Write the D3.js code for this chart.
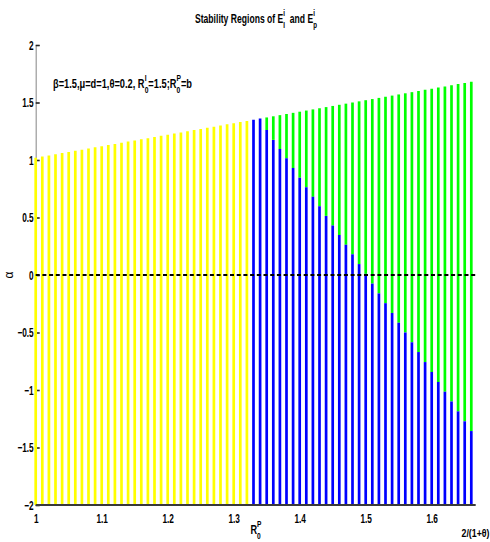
<!DOCTYPE html>
<html>
<head>
<meta charset="utf-8">
<script src="https://cdn.jsdelivr.net/npm/d3@7/dist/d3.min.js"></script>
<style>
  html, body { margin: 0; padding: 0; background: #fff; }
  svg { display: block; }
  .lbl { font-family: "Liberation Sans", Arial, sans-serif; font-weight: bold; fill: #000; }
</style>
</head>
<body>
<svg id="chart" width="490" height="542"></svg>
<script>
// Sample points of R0^P along the horizontal axis
const r0pValues = [
  1.00, 1.01, 1.02, 1.03, 1.04, 1.05, 1.06, 1.07, 1.08, 1.09,
  1.10, 1.11, 1.12, 1.13, 1.14, 1.15, 1.16, 1.17, 1.18, 1.19,
  1.20, 1.21, 1.22, 1.23, 1.24, 1.25, 1.26, 1.27, 1.28, 1.29,
  1.30, 1.31, 1.32, 1.33, 1.34, 1.35, 1.36, 1.37, 1.38, 1.39,
  1.40, 1.41, 1.42, 1.43, 1.44, 1.45, 1.46, 1.47, 1.48, 1.49,
  1.50, 1.51, 1.52, 1.53, 1.54, 1.55, 1.56, 1.57, 1.58, 1.59,
  1.60, 1.61, 1.62, 1.63, 1.64, 1.65, 1.66
];

// Upper edge of the admissible alpha range at each sample
const alphaUpper = [
  1.02, 1.03, 1.04, 1.05, 1.06, 1.07, 1.08, 1.09, 1.10, 1.11,
  1.12, 1.13, 1.14, 1.15, 1.16, 1.17, 1.18, 1.19, 1.20, 1.21,
  1.22, 1.23, 1.24, 1.25, 1.26, 1.27, 1.28, 1.29, 1.30, 1.31,
  1.32, 1.33, 1.34, 1.35, 1.36, 1.37, 1.38, 1.39, 1.40, 1.41,
  1.42, 1.43, 1.44, 1.45, 1.46, 1.47, 1.48, 1.49, 1.50, 1.51,
  1.52, 1.53, 1.54, 1.55, 1.56, 1.57, 1.58, 1.59, 1.60, 1.61,
  1.62, 1.63, 1.64, 1.65, 1.66, 1.67, 1.68
];

// Top of the E_P stable part (blue) for R0^P >= 1.33; null where only E_I exists
const alphaBlueTop = [
  null, null, null, null, null, null, null, null, null, null,
  null, null, null, null, null, null, null, null, null, null,
  null, null, null, null, null, null, null, null, null, null,
  null, null, null, 1.35, 1.36, 1.26, 1.175, 1.095, 1.015, 0.93,
  0.846, 0.763, 0.68, 0.597, 0.514, 0.43, 0.347, 0.263, 0.18, 0.095,
  0.01, -0.075, -0.16, -0.245, -0.33, -0.415, -0.50, -0.585, -0.67, -0.757,
  -0.843, -0.93, -1.015, -1.10, -1.186, -1.272, -1.357
];

const xTicks = [1, 1.1, 1.2, 1.3, 1.4, 1.5, 1.6];
const yTicks = [-2, -1.5, -1, -0.5, 0, 0.5, 1, 1.5, 2];
const xMax = 2 / (1 + 0.2);

const colYellow = "#ffff00", colBlue = "#0000ff", colGreen = "#00ff00";
const tickScaleX = 0.66;   // condensed look of the tick labels

const svg = d3.select("#chart");
const x = d3.scaleLinear().domain([1, xMax]).range([35.7, 475.7]);
const y = d3.scaleLinear().domain([-2, 2]).range([505, 45]);

// Left axis: gray spine, short inward ticks
const yAxis = svg.append("g")
  .attr("transform", `translate(${x(1)},0)`)
  .call(d3.axisLeft(y).tickValues(yTicks).tickSize(-4).tickPadding(2)
        .tickFormat(d3.format("")));
yAxis.select(".domain").attr("stroke", "#999").attr("stroke-width", 1.2);
yAxis.selectAll(".tick line").attr("stroke", "#222").attr("stroke-width", 1.6);
yAxis.selectAll(".tick text").attr("class", "lbl").style("font-size", "12.5px")
  .attr("transform", `scale(${tickScaleX},1)`)
  .attr("x", -2 / tickScaleX)
  .text(d => d < 0 ? "\u2212" + Math.abs(d) : String(d));

// Bars
const bars = svg.append("g");
const bw = 2.7;
r0pValues.forEach((v, i) => {
  const bt = alphaBlueTop[i];
  if (bt === null) {
    bars.append("line").attr("x1", x(v)).attr("x2", x(v))
      .attr("y1", y(-2)).attr("y2", y(alphaUpper[i]))
      .attr("stroke", colYellow).attr("stroke-width", bw);
  } else {
    if (bt < alphaUpper[i] - 0.02) {
      bars.append("line").attr("x1", x(v)).attr("x2", x(v))
        .attr("y1", y(bt)).attr("y2", y(alphaUpper[i]))
        .attr("stroke", colGreen).attr("stroke-width", bw);
    }
    bars.append("line").attr("x1", x(v)).attr("x2", x(v))
      .attr("y1", y(-2)).attr("y2", y(Math.min(bt, alphaUpper[i])))
      .attr("stroke", colBlue).attr("stroke-width", bw);
  }
});

// Zero level (dashed) and bottom base line
svg.append("line").attr("x1", x(1)).attr("x2", x(xMax))
  .attr("y1", y(0)).attr("y2", y(0))
  .attr("stroke", "#000").attr("stroke-width", 2).attr("stroke-dasharray", "4,2.7");
svg.append("line").attr("x1", x(1)).attr("x2", x(xMax))
  .attr("y1", y(-2)).attr("y2", y(-2))
  .attr("stroke", "#3a3a3a").attr("stroke-width", 2);

// Bottom tick labels
const xAxis = svg.append("g")
  .attr("transform", `translate(0,${y(-2)})`)
  .call(d3.axisBottom(x).tickValues(xTicks).tickSize(0).tickPadding(9.5)
        .tickFormat(d3.format("")));
xAxis.select(".domain").remove();
xAxis.selectAll(".tick text").attr("class", "lbl").style("font-size", "12.5px")
  .attr("transform", `scale(${tickScaleX},1)`);

// Rich text helper: parts are {t} normal, or {sup, sub} stacked scripts.
// The whole run is squeezed horizontally to the requested width.
function richText(parent, x0, y0, parts, size, anchor, width) {
  const outer = parent.append("g");
  const g = outer.append("g");
  let cx = 0;
  const small = size * 0.72;
  parts.forEach(p => {
    if (p.t !== undefined) {
      const t = g.append("text").attr("class", "lbl").attr("x", cx).attr("y", 0)
        .style("font-size", size + "px").style("white-space", "pre").text(p.t);
      cx += t.node().getComputedTextLength();
    } else {
      let w = 0;
      if (p.sup !== undefined) {
        const t = g.append("text").attr("class", "lbl").attr("x", cx).attr("y", -size * 0.55)
          .style("font-size", small + "px").text(p.sup);
        w = Math.max(w, t.node().getComputedTextLength());
      }
      if (p.sub !== undefined) {
        const t = g.append("text").attr("class", "lbl").attr("x", cx).attr("y", size * 0.4)
          .style("font-size", small + "px").text(p.sub);
        w = Math.max(w, t.node().getComputedTextLength());
      }
      cx += w;
    }
  });
  const k = width ? width / cx : 1;
  g.attr("transform", `scale(${k},1)`);
  let sx = x0;
  if (anchor === "middle") sx = x0 - cx * k / 2;
  outer.attr("transform", `translate(${sx},${y0})`);
  return outer;
}

// Title
richText(svg, 256, 23, [
  {t: "Stability Regions of E"}, {sup: "i", sub: "I"},
  {t: "  and E"}, {sup: "i", sub: "p"}
], 12.5, "middle", 122);

// Parameter annotation
richText(svg, 53, 88, [
  {t: "\u03b2=1.5,\u03bc=d=1,\u03b8=0.2, R"}, {sup: "I", sub: "0"},
  {t: "=1.5;R"}, {sup: "P", sub: "0"}, {t: "=b"}
], 13, "start", 139);

// Threshold label under the axis and the right-end label
richText(svg, 250.5, 534, [{t: "R"}, {sup: "P", sub: "0"}], 13, "start", 11);
richText(svg, 461.5, 537, [{t: "2/(1+\u03b8)"}], 11.5, "start", 28);

// Vertical axis label
svg.append("text")
  .attr("transform", `translate(13,${y(0)}) rotate(-90)`)
  .attr("text-anchor", "middle")
  .style("font-family", "'Liberation Sans', Arial, sans-serif")
  .style("font-size", "12px")
  .text("\u03b1");
</script>
</body>
</html>
